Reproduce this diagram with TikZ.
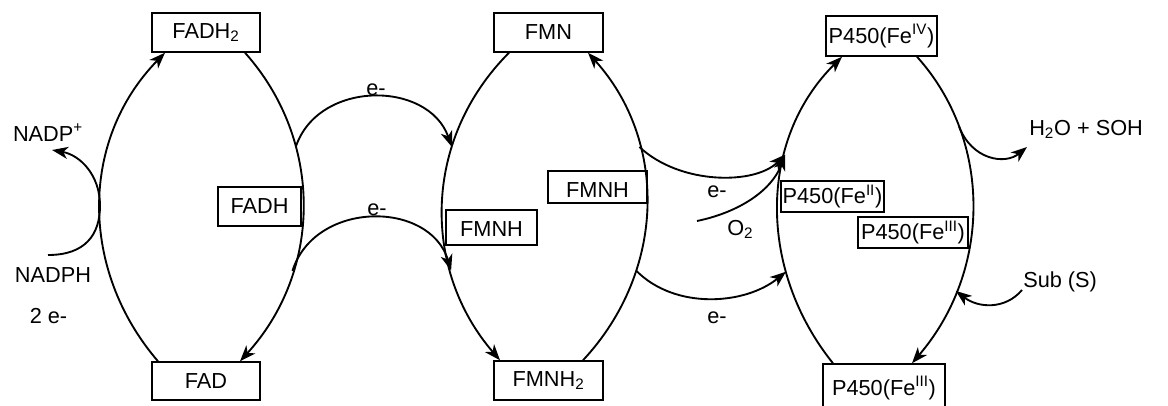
\documentclass[tikz,border=0pt]{standalone}
\usepackage{fontspec}
\setmainfont{Liberation Sans}
\usetikzlibrary{arrows.meta,calc}
\begin{document}
\begin{tikzpicture}[x=0.75pt,y=-0.75pt,
  font=\fontsize{16.3}{19.5}\selectfont,
  box/.style={draw,line width=1.1pt,inner sep=1pt},
  arc/.style={line width=1.4pt},
  arr/.style={arc,-{Stealth[length=12pt,width=9pt,inset=3.5pt]}},
  lbl/.style={inner sep=0pt}
]
\useasboundingbox (0,0) rectangle (1168,405);
% boxes
\node[box,minimum width=81pt,minimum height=29.25pt] (fadh2) at (206,32.5) {FADH\textsubscript{2}};
\node[box,minimum width=81pt,minimum height=28.5pt] (fad) at (206,381) {FAD};
\node[box,minimum width=62.25pt,minimum height=29.25pt] (fadh) at (259.5,206.5) {FADH};
\node[box,minimum width=81.75pt,minimum height=29.25pt] (fmn) at (548.5,32.5) {FMN};
\node[box,minimum width=81.75pt,minimum height=29.25pt] (fmnh2) at (548.5,380.5) {FMNH\textsubscript{2}};
\node[box,minimum width=68.25pt,minimum height=26.25pt,text height=13pt] (fmnhA) at (491.5,227.5) {FMNH};
\node[box,minimum width=74.25pt,minimum height=24pt,text height=15pt] (fmnhB) at (597.5,187) {FMNH};
\node[box,minimum width=83.25pt,minimum height=30pt] (p4) at (881.5,36) {P450(Fe\textsuperscript{IV})};
\node[box,minimum width=91.5pt,minimum height=36pt] (p3b) at (884,388) {P450(Fe\textsuperscript{III})};
\node[box,minimum width=77.25pt,minimum height=23.25pt] (p2) at (832.5,196.5) {P450(Fe\textsuperscript{II})};
\node[box,minimum width=82.5pt,minimum height=23.25pt] (p3m) at (913,232.5) {P450(Fe\textsuperscript{III})};
% labels
\node[lbl,anchor=base] (nadp) at (48,141) {NADP\textsuperscript{+}};
\node[lbl,anchor=base] (nadph) at (53,282) {NADPH};
\node[lbl,anchor=base] (twoe) at (48.5,323) {2 e-};
\node[lbl,anchor=base] (e1) at (376,95) {e-};
\node[lbl,anchor=base] (e2) at (377,215) {e-};
\node[lbl,anchor=base] (e3) at (717,197) {e-};
\node[lbl,anchor=base west] (o2) at (727,235) {O\textsubscript{2}};
\node[lbl,anchor=base] (e4) at (717,323) {e-};
\node[lbl,anchor=base west] (h2o) at (1029,135) {H\textsubscript{2}O + SOH};
\node[lbl,anchor=base west] (sub) at (1023,287) {Sub (S)};
\coordinate (nadphS) at (48,255);
\coordinate (nadpE) at (52,150);
\coordinate (o2S) at (697,221);
\coordinate (h2oE) at (1027,147);
\coordinate (subS) at (1022,290);
% left cycle
\draw[arr] ($(fad.north)+(-48,0)$) .. controls (79.5,270) and (79.5,140) .. ($(fadh2.south)+(-41,0)$) coordinate[pos=0.5] (touch);
\draw[arr] ($(fadh2.south)+(39,0)$) .. controls (323,140) and (323,270) .. ($(fad.north)+(34,0)$)
  coordinate[pos=0.32] (Lr1) coordinate[pos=0.7] (Lr2);
% middle cycle
\draw[arr] ($(fmn.south)+(-39.5,0)$) .. controls (422,140) and (422,270) .. ($(fmnh2.north)+(-48.5,0)$)
  coordinate[pos=0.32] (Ml1) coordinate[pos=0.7] (Ml2);
\draw[arr] ($(fmnh2.north)+(34.5,0)$) .. controls (667,270) and (667,140) .. ($(fmn.south)+(39.5,0)$)
  coordinate[pos=0.3] (Mr2) coordinate[pos=0.68] (Mr1);
% right cycle
\draw[arr] ($(p3b.north)+(-51,0)$) .. controls (758,270) and (758,140) .. ($(p4.south)+(-39.5,0)$)
  coordinate[pos=0.3] (Rl2) coordinate[pos=0.66] (Rl1);
\draw[arr] ($(p4.south)+(35.5,0)$) .. controls (992,140) and (992,270) .. ($(p3b.north)+(28,0)$)
  coordinate[pos=0.25] (Rr1) coordinate[pos=0.76] (Rr2);
% NADPH
\draw[arr] (nadphS) .. controls (85,255) and (100,235) .. (touch) .. controls (100,175) and (80,155) .. (nadpE);
% electron transfers
\draw[arr] (Lr1) .. controls (318,80) and (428,80) .. (Ml1);
\draw[arr] (Lr2) .. controls (315,200) and (430,200) .. (Ml2);
\draw[arr] (Mr1) .. controls (680,185) and (755,185) .. (Rl1);
\draw[arr] (o2S) .. controls (740,212) and (772,190) .. (Rl1);
\draw[arr] (Mr2) .. controls (675,310) and (745,305) .. (Rl2);
\draw[arr] (Rr1) .. controls (972,160) and (1005,165) .. (h2oE);
\draw[arr] (subS) .. controls (1005,310) and (978,308) .. (Rr2);
\end{tikzpicture}
\end{document}
